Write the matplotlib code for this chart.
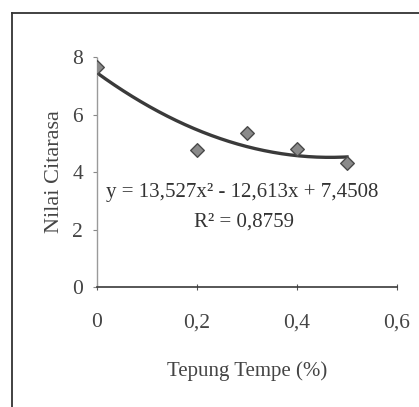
import numpy as np
import matplotlib
matplotlib.use("Agg")
import matplotlib.pyplot as plt
from matplotlib.lines import Line2D

plt.rcParams['font.family'] = ['Liberation Serif', 'DejaVu Serif']

x_vals = [0.0, 0.2, 0.3, 0.4, 0.5]
y_vals = [7.65, 4.75, 5.35, 4.8, 4.3]
coef = [13.527, -12.613, 7.4508]  # a x^2 + b x + c
x_ticks = [0, 0.2, 0.4, 0.6]
x_tick_labels = ['0', '0,2', '0,4', '0,6']
y_ticks = [0, 2, 4, 6, 8]

fig = plt.figure(figsize=(4.19, 4.07), dpi=100)
ax = fig.add_axes([0.2315, 0.2948, 0.716, 0.565])

xs = np.linspace(min(x_vals), max(x_vals), 200)
ax.plot(xs, np.polyval(coef, xs), color='#3a3a3a', lw=2.4, zorder=2)
ax.scatter(x_vals, y_vals, marker='D', s=48, color='#8a8a8a',
           edgecolor='#4a4a4a', linewidth=1.0, zorder=3)

ax.set_xlim(0, 0.6)
ax.set_ylim(0, 8)
ax.set_xticks(x_ticks)
ax.set_xticklabels(x_tick_labels)
ax.set_yticks(y_ticks)
for s in ['top', 'right']:
    ax.spines[s].set_visible(False)
ax.spines['left'].set_color('#9a9a9a')
ax.spines['left'].set_linewidth(1.0)
ax.spines['left'].set_linestyle((0, (1, 1)))
ax.spines['bottom'].set_color('#3a3a3a')
ax.spines['bottom'].set_linewidth(1.2)
ax.tick_params(axis='x', direction='inout', length=4, pad=17,
               labelsize=15.5, colors='#555555', labelcolor='#444444')
ax.tick_params(axis='y', direction='out', length=3, pad=7,
               labelsize=15.5, colors='#888888', labelcolor='#444444')

ax.set_xlabel('Tepung Tempe (%)', fontsize=15, color='#444444', labelpad=21)
ax.set_ylabel('Nilai Citarasa', fontsize=16, color='#444444', labelpad=6)

ax.text(0.29, 3.3, 'y = 13,527x² - 12,613x + 7,4508', fontsize=15,
        ha='center', va='center', color='#333333')
ax.text(0.294, 2.26, 'R² = 0,8759', fontsize=15,
        ha='center', va='center', color='#333333')

fig.add_artist(Line2D([12/419, 12/419], [0, 1 - 13/407],
                      transform=fig.transFigure, color='#333333', lw=1.3))
fig.add_artist(Line2D([12/419, 1], [1 - 13/407, 1 - 13/407],
                      transform=fig.transFigure, color='#333333', lw=1.3))

fig.savefig('out.png', dpi=100)
